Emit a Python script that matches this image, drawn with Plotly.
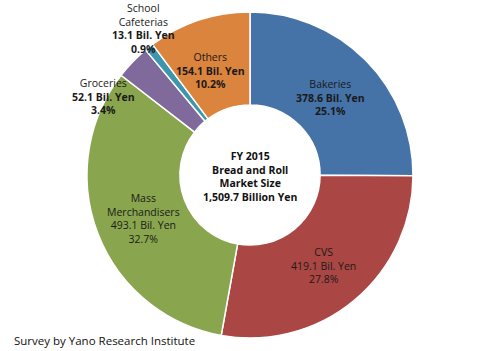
import plotly.graph_objects as go

categories = ["Bakeries", "CVS", "Mass Merchandisers", "Groceries", "School Cafeterias", "Others"]
values = [378.6, 419.1, 493.1, 52.1, 13.1, 154.1]
shares = ["25.1%", "27.8%", "32.7%", "3.4%", "0.9%", "10.2%"]
label_names = ["Bakeries", "CVS", "Mass<br>Merchandisers", "Groceries", "School<br>Cafeterias", "Others"]
total_text = "1,509.7 Billion Yen"
source = "Survey by Yano Research Institute"

colors = ["#4572A7", "#AA4643", "#89A54E", "#80699B", "#3D96AE", "#DB843D"]
bold_values = [True, False, False, True, True, True]

W, H = 492, 351
FONT = "Open Sans"
FS = 10.5

def px(x, y):
    return x / W, 1 - y / H

# label centers in pixels (layout only)
label_pos = [(330, 97), (323, 265), (143, 218), (103, 96), (143, 29), (210, 70)]

fig = go.Figure()
fig.add_trace(go.Pie(
    labels=categories, values=values, sort=False, direction="clockwise",
    rotation=0, hole=0.43,
    marker=dict(colors=colors, line=dict(color="white", width=1.5)),
    textinfo="none", hoverinfo="label+value+percent",
    domain=dict(x=[87 / W, 413 / W], y=[1 - 338 / H, 1 - 12 / H]),
    showlegend=False,
))

annotations = []
for i, cat in enumerate(categories):
    name = label_names[i]
    val = f"{values[i]:.1f} Bil. Yen"
    pct = shares[i]
    if bold_values[i]:
        val = f"<b>{val}</b>"
        pct = f"<b>{pct}</b>"
    x, y = px(*label_pos[i])
    annotations.append(dict(
        x=x, y=y, xref="paper", yref="paper", showarrow=False,
        text=f"{name}<br>{val}<br>{pct}", align="center",
        font=dict(family=FONT, size=FS, color="#1a1a1a"),
        xanchor="center", yanchor="middle",
    ))

cx, cy = px(250, 176)
annotations.append(dict(
    x=cx, y=cy, xref="paper", yref="paper", showarrow=False,
    text=f"<b>FY 2015<br>Bread and Roll<br>Market Size<br>{total_text}</b>",
    align="center", font=dict(family=FONT, size=10.5, color="#111111"),
    xanchor="center", yanchor="middle",
))
sx, sy = px(12, 340)
annotations.append(dict(
    x=sx, y=sy, xref="paper", yref="paper", showarrow=False,
    text=source, align="left", font=dict(family=FONT, size=11.5, color="#111111"),
    xanchor="left", yanchor="middle",
))

fig.update_layout(
    width=W, height=H, margin=dict(l=0, r=0, t=0, b=0),
    paper_bgcolor="white", plot_bgcolor="white",
    annotations=annotations,
)

fig.write_html("out.html")
